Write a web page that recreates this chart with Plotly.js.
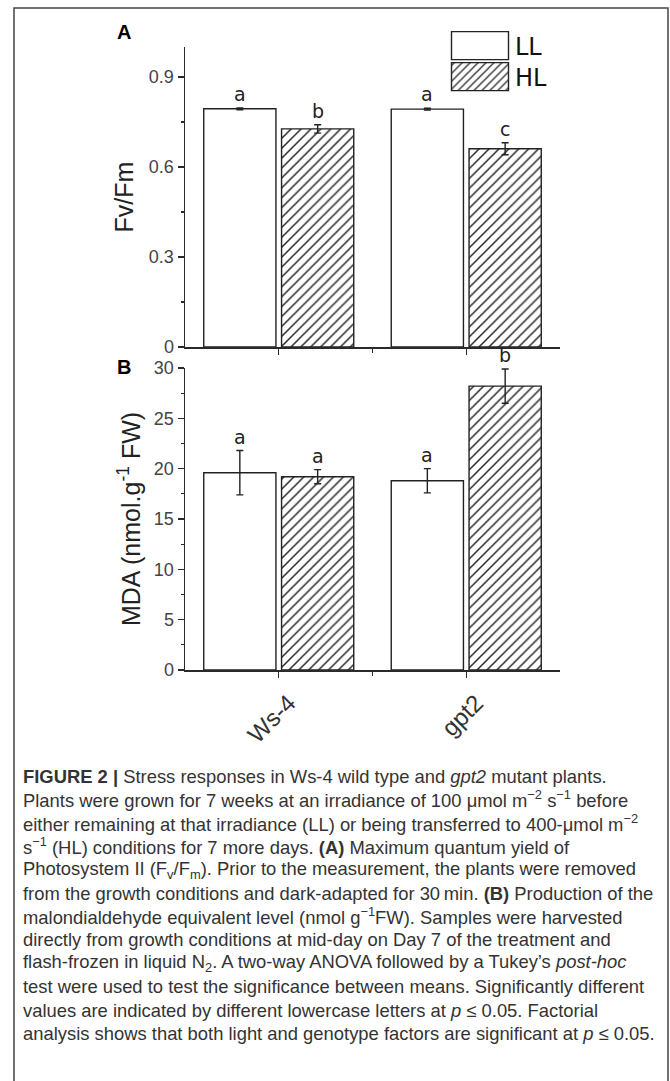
<!DOCTYPE html>
<html>
<head>
<meta charset="utf-8">
<script src="https://cdn.plot.ly/plotly-3.0.1.min.js"></script>
<style>html,body{margin:0;padding:0;background:#fff;}#chart{width:670px;height:1081px;}</style>
</head>
<body>
<div id="chart"></div>
<script>
// ---------- data ----------
const categories = ['Ws-4', 'gpt2'];
const seriesNames = ['LL', 'HL'];

const fvfmLL = [0.794, 0.793];
const fvfmLLErr = [0.003, 0.003];
const fvfmHL = [0.727, 0.661];
const fvfmHLErr = [0.014, 0.020];

const mdaLL = [19.6, 18.8];
const mdaLLErr = [2.2, 1.2];
const mdaHL = [19.2, 28.2];
const mdaHLErr = [0.7, 1.7];

const fvfmLLLetters = ['a', 'a'];
const fvfmHLLetters = ['b', 'c'];
const mdaLLLetters = ['a', 'a'];
const mdaHLLetters = ['a', 'b'];

const fvfmTicks = [0, 0.3, 0.6, 0.9];
const mdaTicks = [0, 5, 10, 15, 20, 25, 30];

const captionLines = [
  '<b>FIGURE 2 |</b> Stress responses in Ws-4 wild type and <i>gpt2</i> mutant plants.',
  'Plants were grown for 7 weeks at an irradiance of 100 \u03bcmol m<sup>\u22122</sup> s<sup>\u22121</sup> before',
  'either remaining at that irradiance (LL) or being transferred to 400-\u03bcmol m<sup>\u22122</sup>',
  's<sup>\u22121</sup> (HL) conditions for 7 more days. <b>(A)</b> Maximum quantum yield of',
  'Photosystem II (F<sub>v</sub>/F<sub>m</sub>). Prior to the measurement, the plants were removed',
  'from the growth conditions and dark-adapted for 30\u2009min. <b>(B)</b> Production of the',
  'malondialdehyde equivalent level (nmol g<sup>\u22121</sup>FW). Samples were harvested',
  'directly from growth conditions at mid-day on Day 7 of the treatment and',
  'flash-frozen in liquid N<sub>2</sub>. A two-way ANOVA followed by a Tukey\u2019s <i>post-hoc</i>',
  'test were used to test the significance between means. Significantly different',
  'values are indicated by different lowercase letters at <i>p</i> \u2264 0.05. Factorial',
  'analysis shows that both light and genotype factors are significant at <i>p</i> \u2264 0.05.'
];

// ---------- geometry helpers ----------
const W = 670, H = 1081;
const px = p => p / W;
const py = p => 1 - p / H;
const xIdx = categories.map((_, i) => i);
const BW = 0.385, OFF_LL = -0.40, OFF_HL = 0.015;
const cLL = OFF_LL + BW / 2, cHL = OFF_HL + BW / 2;

const axisColor = '#2a2a2a';
const hatch = {shape: '/', fgcolor: '#2a2a2a', bgcolor: '#ffffff', size: 7, solidity: 0.22};

function barTrace(name, vals, errs, xa, ya, off, patterned, showLeg, leg) {
  return {
    type: 'bar', name: name, x: xIdx, y: vals, xaxis: xa, yaxis: ya,
    width: BW, offset: off, showlegend: showLeg, legend: leg,
    marker: Object.assign({color: '#ffffff', line: {color: '#222', width: 1.4}},
      patterned ? {pattern: hatch} : {}),
    error_y: {type: 'data', array: errs, visible: true, color: '#222', thickness: 1.4, width: 3.5},
    hoverinfo: 'skip'
  };
}

const data = [
  barTrace(seriesNames[0], fvfmLL, fvfmLLErr, 'x', 'y', OFF_LL, false, true, 'legend'),
  barTrace(seriesNames[1], fvfmHL, fvfmHLErr, 'x', 'y', OFF_HL, true, true, 'legend2'),
  barTrace(seriesNames[0], mdaLL, mdaLLErr, 'x2', 'y2', OFF_LL, false, false, 'legend'),
  barTrace(seriesNames[1], mdaHL, mdaHLErr, 'x2', 'y2', OFF_HL, true, false, 'legend2')
];

const letterFont = {family: 'DejaVu Sans, Verdana, sans-serif', size: 19, color: '#222'};
const annotations = [];
function addLetters(letters, vals, errs, center, xr, yr) {
  letters.forEach((t, i) => annotations.push({
    text: t, x: i + center, y: vals[i] + errs[i], xref: xr, yref: yr,
    xanchor: 'center', yanchor: 'bottom', yshift: 1, showarrow: false, font: letterFont
  }));
}
addLetters(fvfmLLLetters, fvfmLL, fvfmLLErr, cLL, 'x', 'y');
addLetters(fvfmHLLetters, fvfmHL, fvfmHLErr, cHL, 'x', 'y');
addLetters(mdaLLLetters, mdaLL, mdaLLErr, cLL, 'x2', 'y2');
addLetters(mdaHLLetters, mdaHL, mdaHLErr, cHL, 'x2', 'y2');

const panelFont = {family: 'Liberation Sans, Arial, sans-serif', size: 20, color: '#000'};
annotations.push({text: '<b>A</b>', xref: 'paper', yref: 'paper', x: px(124), y: py(32),
  xanchor: 'center', yanchor: 'middle', showarrow: false, font: panelFont});
annotations.push({text: '<b>B</b>', xref: 'paper', yref: 'paper', x: px(124), y: py(367),
  xanchor: 'center', yanchor: 'middle', showarrow: false, font: panelFont});

const capFont = {family: 'Liberation Sans, Arial, sans-serif', size: 18.4, color: '#333'};
captionLines.forEach((t, i) => annotations.push({
  text: t, xref: 'paper', yref: 'paper', x: px(21), y: py(776 + i * 23.4),
  xanchor: 'left', yanchor: 'middle', align: 'left', showarrow: false, font: capFont
}));

const tickFont = {family: 'Liberation Sans, Arial, sans-serif', size: 18, color: '#444'};
const titleFont = {family: 'Liberation Sans, Arial, sans-serif', size: 25, color: '#222'};

const xBase = {
  range: [-0.5, 1.5], showline: true, linecolor: axisColor, linewidth: 1.5,
  ticks: 'outside', ticklen: 6, tickwidth: 1.4, tickcolor: axisColor,
  tickmode: 'array', tickvals: xIdx, ticktext: categories,
  minor: {tickmode: 'array', tickvals: [0.5], ticks: 'outside', ticklen: 4, tickwidth: 1.4, tickcolor: axisColor},
  showgrid: false, zeroline: false, fixedrange: true
};

const legendBase = {
  xanchor: 'left', yanchor: 'middle',
  font: {family: 'DejaVu Sans, Verdana, sans-serif', size: 24, color: '#111'},
  itemwidth: 60, bgcolor: 'rgba(0,0,0,0)', borderwidth: 0,
  itemclick: false, itemdoubleclick: false
};

const layout = {
  width: W, height: H,
  margin: {l: 0, r: 0, t: 0, b: 0},
  paper_bgcolor: '#ffffff', plot_bgcolor: 'rgba(0,0,0,0)',
  barmode: 'overlay',
  showlegend: true,
  legend: Object.assign({}, legendBase, {x: px(445), y: py(46)}),
  legend2: Object.assign({}, legendBase, {x: px(445), y: py(77)}),
  xaxis: Object.assign({}, xBase, {domain: [px(185), px(560)], anchor: 'y', showticklabels: false}),
  yaxis: {
    domain: [py(347), py(47)], range: [0, 1.0], anchor: 'x',
    showline: true, linecolor: axisColor, linewidth: 1.5,
    ticks: 'outside', ticklen: 6, tickwidth: 1.4, tickcolor: axisColor,
    tickmode: 'array', tickvals: fvfmTicks, ticktext: fvfmTicks.map(String),
    minor: {tick0: 0, dtick: 0.15, ticks: 'outside', ticklen: 3, tickwidth: 1.2, tickcolor: axisColor},
    tickfont: tickFont, showgrid: false, zeroline: false, fixedrange: true,
    title: {text: 'Fv/Fm', font: titleFont, standoff: 8}
  },
  xaxis2: Object.assign({}, xBase, {domain: [px(185), px(560)], anchor: 'y2', showticklabels: true,
    tickangle: -45, ticklabelshift: 10, ticklabelstandoff: 2,
    tickfont: {family: 'Liberation Sans, Arial, sans-serif', size: 24, color: '#333'}}),
  yaxis2: {
    domain: [py(670), py(368)], range: [0, 30], anchor: 'x2',
    showline: true, linecolor: axisColor, linewidth: 1.5,
    ticks: 'outside', ticklen: 6, tickwidth: 1.4, tickcolor: axisColor,
    tickmode: 'array', tickvals: mdaTicks, ticktext: mdaTicks.map(String),
    minor: {tick0: 0, dtick: 2.5, ticks: 'outside', ticklen: 3, tickwidth: 1.2, tickcolor: axisColor},
    tickfont: tickFont, showgrid: false, zeroline: false, fixedrange: true,
    title: {text: 'MDA (nmol.g<sup>-1</sup> FW)', font: titleFont, standoff: 6}
  },
  shapes: [{
    type: 'rect', xref: 'paper', yref: 'paper', layer: 'below',
    x0: px(14), x1: px(668), y0: -0.05, y1: py(8),
    line: {color: '#444', width: 1.5}, fillcolor: 'rgba(0,0,0,0)'
  }],
  annotations: annotations
};

Plotly.newPlot('chart', data, layout, {displayModeBar: false, staticPlot: true}).then(() => {
  // enlarge legend swatches to match the wide boxes of the reference
  document.querySelectorAll('.legendpoints path').forEach(p => {
    p.setAttribute('d', 'M-28.5,-14H28.5V14H-28.5Z');
  });
});
</script>
</body>
</html>
